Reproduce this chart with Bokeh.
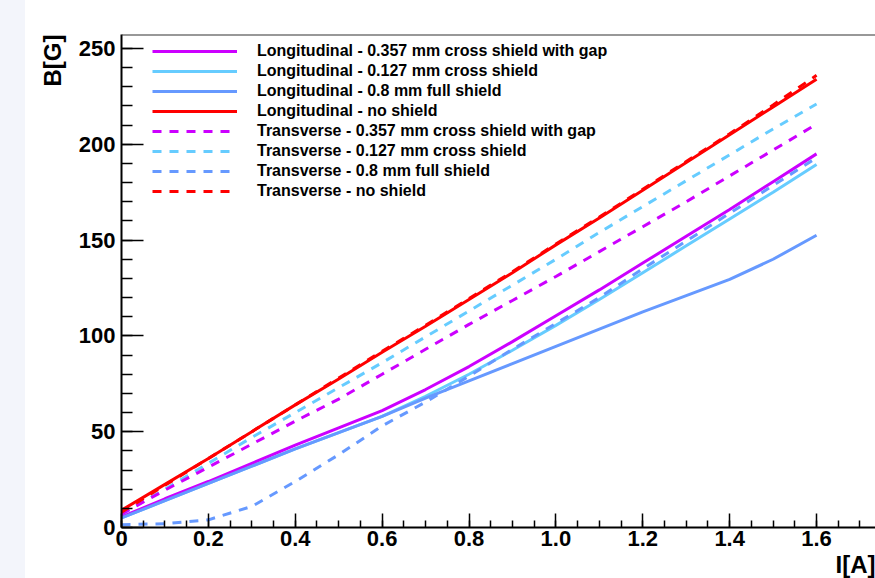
from bokeh.plotting import figure
from bokeh.models import (Range1d, FixedTicker, CustomJSTickFormatter, Legend, LegendItem, Title, Span)
from bokeh.embed import file_html
from bokeh.resources import INLINE

# ---- data ----
current = [0, 0.1, 0.2, 0.3, 0.4, 0.5, 0.6, 0.7, 0.8, 0.9, 1.0, 1.1, 1.2, 1.3, 1.4, 1.5, 1.6]

long_0357 = [5.5, 15, 24, 33.5, 43, 52, 61, 72, 84, 97, 110.5, 124, 138, 152, 166, 180.5, 195]
long_0127 = [5, 14, 23, 32, 41, 49.5, 58, 68.5, 80, 92.5, 105.5, 119, 133, 147, 161, 175, 189.5]
long_08 = [5, 14, 23, 32, 41, 49.5, 58, 67.5, 76.5, 85.5, 94.5, 103.5, 112.5, 121, 129.5, 140, 152.5]
long_none = [9, 22.5, 36, 50, 64, 77.5, 91.5, 105, 119, 133, 147.5, 161.5, 176, 190.5, 205, 219.5, 234]
trans_0357 = [7, 19.5, 31.5, 43.5, 55.5, 67, 80, 93, 106, 118.5, 131, 144, 157, 170, 183.5, 197, 210.5]
trans_0127 = [7, 20, 33.5, 47, 60, 73, 86, 99.5, 113, 126.5, 140, 154, 167.5, 181, 194.5, 208, 221]
trans_08 = [1.5, 2, 4, 11, 24, 38, 53, 65.5, 79, 93, 106.5, 120, 135, 149.5, 164, 178.5, 193]
trans_none = [8, 22, 36, 50, 64, 78, 92, 105.5, 119.5, 133.5, 148, 162, 176.5, 191, 205.5, 220.5, 236]

labels = [
    "Longitudinal - 0.357 mm cross shield with gap",
    "Longitudinal - 0.127 mm cross shield",
    "Longitudinal - 0.8 mm full shield",
    "Longitudinal - no shield",
    "Transverse - 0.357 mm cross shield with gap",
    "Transverse - 0.127 mm cross shield",
    "Transverse - 0.8 mm full shield",
    "Transverse - no shield",
]
series = [long_0357, long_0127, long_08, long_none, trans_0357, trans_0127, trans_08, trans_none]
colors = ["#cc00ff", "#66ccff", "#6699ff", "#ff0000", "#cc00ff", "#66ccff", "#6699ff", "#ff0000"]
dashes = ["solid"] * 4 + ["9 8"] * 4

x_ticks = [0, 0.2, 0.4, 0.6, 0.8, 1.0, 1.2, 1.4, 1.6]
x_minor = [i * 0.05 for i in range(0, 35)]
y_ticks = [0, 50, 100, 150, 200, 250]
y_minor = list(range(0, 260, 10))
y_top = 257.3

FONT = "Liberation Sans"

p = figure(width=875, height=578, output_backend="svg", toolbar_location=None,
           x_range=Range1d(0, 1.7357), y_range=Range1d(0, y_top),
           min_border_left=121, min_border_right=0, min_border_top=34, min_border_bottom=51)
p.border_fill_color = None
p.background_fill_color = "white"
p.outline_line_color = None
p.xgrid.visible = False
p.ygrid.visible = False

top_line = Span(location=y_top, dimension="width", line_color="#333333", line_width=2)
p.add_layout(top_line)

for ax in (p.xaxis[0], p.yaxis[0]):
    ax.axis_line_width = 2
    ax.axis_line_color = "black"
    ax.major_tick_line_color = "black"
    ax.minor_tick_line_color = "black"
    ax.major_tick_line_width = 1.5
    ax.minor_tick_line_width = 1.5
    ax.major_tick_out = 0
    ax.minor_tick_out = 0
    ax.major_label_text_font = FONT
    ax.major_label_text_font_style = "bold"
    ax.major_label_text_font_size = "22px"
    ax.major_label_text_color = "black"

p.xaxis[0].ticker = FixedTicker(ticks=x_ticks, minor_ticks=x_minor)
p.xaxis[0].major_tick_in = 14
p.xaxis[0].minor_tick_in = 7
p.xaxis[0].major_label_standoff = 3
p.xaxis[0].formatter = CustomJSTickFormatter(code="return tick == 0 ? '0' : tick.toFixed(1);")

p.yaxis[0].ticker = FixedTicker(ticks=y_ticks, minor_ticks=y_minor)
p.yaxis[0].major_tick_in = 22
p.yaxis[0].minor_tick_in = 11
p.yaxis[0].major_label_standoff = 6

# draw order: solid light blue before magenta
order = [1, 0, 2, 3, 5, 4, 6, 7]
renderers = {}
for i in order:
    renderers[i] = p.line(current, series[i], line_color=colors[i], line_width=3,
                          line_dash=dashes[i])

legend = Legend(items=[LegendItem(label=labels[i], renderers=[renderers[i]]) for i in range(8)],
                location=(31, 326), padding=0, margin=0, spacing=0,
                glyph_width=85, glyph_height=20, label_height=20, label_standoff=20,
                border_line_color=None, background_fill_alpha=0,
                label_text_font=FONT, label_text_font_style="bold",
                label_text_font_size="16px", label_text_color="black")
p.add_layout(legend)

ytitle = Title(text="B[G]", align="right", standoff=19, text_font=FONT, text_font_style="bold",
               text_font_size="24px", text_color="black")
p.add_layout(ytitle, "left")
xtitle = Title(text="I[A]", align="right", standoff=0, text_font=FONT, text_font_style="bold",
               text_font_size="24px", text_color="black")
p.add_layout(xtitle, "below")

html = file_html(p, INLINE)
html = html.replace("<head>", "<head><style>body{background:linear-gradient(to right,#f3f5fb 25px,#ffffff 25px);}</style>", 1)
open("out.html", "w").write(html)
